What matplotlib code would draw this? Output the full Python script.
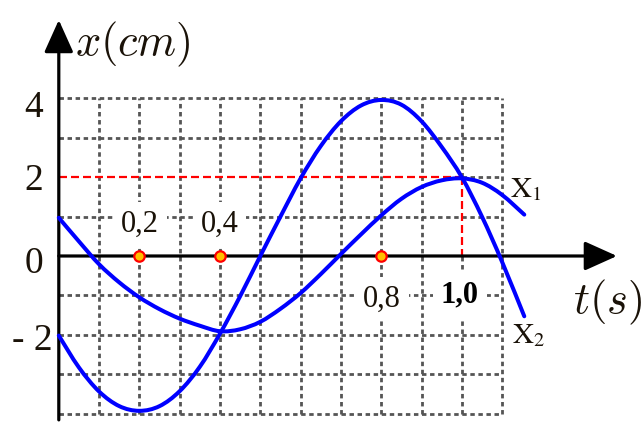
import numpy as np
import matplotlib
matplotlib.use("Agg")
import matplotlib.pyplot as plt
from matplotlib.path import Path
from matplotlib.patches import PathPatch

# values every 0.05 s (last point = where the drawn curves stop)
t = [0.00, 0.05, 0.10, 0.15, 0.20, 0.25, 0.30, 0.35, 0.40, 0.45, 0.50, 0.55,
     0.60, 0.65, 0.70, 0.75, 0.80, 0.85, 0.90, 0.95, 1.00, 1.05, 1.10, 1.155]
x1 = [0.97, 0.37, -0.21, -0.67, -1.05, -1.35, -1.59, -1.77, -1.91, -1.86, -1.67, -1.34,
      -0.94, -0.46, 0.05, 0.55, 1.03, 1.45, 1.75, 1.92, 1.97, 1.86, 1.55, 1.05]
x2 = [-2.02, -2.83, -3.44, -3.81, -3.93, -3.81, -3.43, -2.81, -1.97, -1.02, 0.00, 1.00,
      1.97, 2.79, 3.42, 3.82, 3.96, 3.84, 3.42, 2.77, 2.00, 1.00, -0.15, -1.53]

grid_t = [0.1, 0.2, 0.3, 0.4, 0.5, 0.6, 0.7, 0.8, 0.9, 1.0, 1.1]
grid_x = [-4, -3, -2, -1, 1, 2, 3, 4]
marked_t = [0.2, 0.4, 0.8]
ytick_text = ["4", "2", "0", "- 2"]
ytick_pos = [(-0.039, 3.53), (-0.039, 1.675), (-0.039, -0.43), (-0.0144, -2.39)]

INK = "#1a1208"
GRID = "#555555"
BOX = dict(boxstyle="square,pad=0.25", facecolor="white", edgecolor="none")


def smooth_path(xs, ys):
    # Catmull-Rom through the read points, drawn as cubic Bezier segments
    p = np.column_stack([xs, ys])
    pe = np.vstack([p[0], p, p[-1]])
    verts, codes = [p[0]], [Path.MOVETO]
    for i in range(len(p) - 1):
        p0, p1, p2, p3 = pe[i], pe[i + 1], pe[i + 2], pe[i + 3]
        verts += [p1 + (p2 - p0) / 6, p2 - (p3 - p1) / 6, p2]
        codes += [Path.CURVE4] * 3
    return Path(verts, codes)


fig = plt.figure(figsize=(6.43, 4.45), dpi=100)
ax = fig.add_axes([0, 0, 1, 1])
ax.set_xlim(-0.1459, 1.4496)
ax.set_ylim(-4.797, 6.497)
ax.axis("off")

gkw = dict(color=GRID, lw=2.0, ls=(0, (1.6, 1.3)), zorder=1)
for tv in grid_t:
    if tv == 1.0:
        ax.plot([tv, tv], [-4, 0], **gkw)
        ax.plot([tv, tv], [2, 4], **gkw)
    else:
        ax.plot([tv, tv], [-4, 4], **gkw)
for xv in grid_x:
    ax.plot([1.0 if xv == 2 else 0, 1.1], [xv, xv], **gkw)

rkw = dict(color="red", lw=1.6, ls=(0, (3.6, 1.8)), zorder=2)
ax.plot([0, 1.0], [2, 2], **rkw)
ax.plot([1.0, 1.0], [2, 0], **rkw)

# axes with arrow heads
akw = dict(arrowstyle="-|>,head_length=1.0,head_width=0.45", mutation_scale=20,
           lw=2.3, color="black", shrinkA=0, shrinkB=0)
ax.annotate("", xy=(0, 5.99), xytext=(0, -4.16), arrowprops=akw, zorder=3)
ax.annotate("", xy=(1.385, 0), xytext=(0, 0), arrowprops=akw, zorder=3)

for ys in (x1, x2):
    ax.add_patch(PathPatch(smooth_path(t, ys), fill=False, edgecolor="#0000ff",
                           lw=2.9, capstyle="round", zorder=4))

ax.plot(marked_t, [0] * len(marked_t), "o", ms=7.5, mfc="#ffc000", mec="red",
        mew=1.6, zorder=5)

for s, (xx, yy) in zip(ytick_text, ytick_pos):
    ax.text(xx, yy, s, ha="right", va="baseline", fontsize=27,
            family="Liberation Serif", color=INK)

tkw = dict(ha="center", va="baseline", family="Liberation Serif", bbox=BOX, zorder=2.5)
ax.text(0.2015, 0.61, "0,2", fontsize=22, color=INK, **tkw)
ax.text(0.3995, 0.61, "0,4", fontsize=22, color=INK, **tkw)
ax.text(0.802, -1.29, "0,8", fontsize=22, color=INK, **tkw)
ax.text(0.9955, -1.19, "1,0", fontsize=22, weight="bold", color="black", **tkw)

ax.text(0.040, 5.08, r"$x(cm)$", ha="left", va="baseline", fontsize=32,
        math_fontfamily="cm", color=INK)
ax.text(1.276, -1.45, r"$t(s)$", ha="left", va="baseline", fontsize=32,
        math_fontfamily="cm", color=INK)

ax.text(1.12, 1.50, r"$\mathrm{X}_1$", ha="left", va="baseline", fontsize=21,
        math_fontfamily="stix", color=INK)
ax.text(1.125, -2.21, r"$\mathrm{X}_2$", ha="left", va="baseline", fontsize=21,
        math_fontfamily="stix", color=INK)

fig.savefig("out.png", dpi=100)
